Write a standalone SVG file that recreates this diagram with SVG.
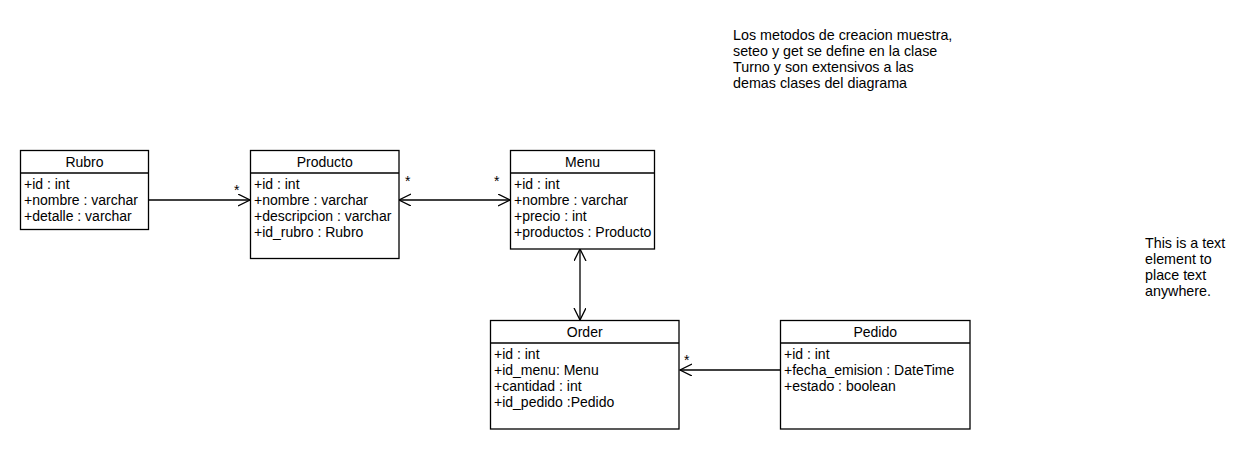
<svg xmlns="http://www.w3.org/2000/svg" width="1260" height="450" viewBox="0 0 1260 450">
<defs>
<style>
text{font-family:"Liberation Sans",Arial,sans-serif;font-size:14px;fill:#000}
.note{font-size:14.3px}
.box{fill:#fff;stroke:#000;stroke-width:1.3}
.div{stroke:#000;stroke-width:1.3}
.hdr{text-anchor:middle}
.conn{stroke:#000;stroke-width:1.3;fill:none}
</style>
<marker id="open" markerWidth="14" markerHeight="14" refX="12" refY="6" orient="auto-start-reverse" markerUnits="userSpaceOnUse">
<path d="M0,0 L12,6 L0,12" fill="none" stroke="#000" stroke-width="1.3"/>
</marker>
</defs>
<rect width="1260" height="450" fill="#fff"/>
<g id="connectors">
<line class="conn" x1="149" y1="200" x2="250" y2="200" marker-end="url(#open)"/>
<text x="234" y="195">*</text>
<line class="conn" x1="399" y1="200" x2="510" y2="200" marker-start="url(#open)" marker-end="url(#open)"/>
<text x="405" y="186">*</text>
<text x="494" y="186">*</text>
<line class="conn" x1="580" y1="249" x2="580" y2="320" marker-start="url(#open)" marker-end="url(#open)"/>
<line class="conn" x1="780" y1="370" x2="680" y2="370" marker-end="url(#open)"/>
<text x="684" y="365">*</text>
</g>
<g id="rubro">
<rect class="box" x="20.5" y="150.5" width="128" height="79"/>
<line class="div" x1="20.5" y1="173" x2="148.5" y2="173"/>
<text class="hdr" x="84.5" y="167">Rubro</text>
<text x="24" y="189">+id : int</text>
<text x="24" y="205">+nombre : varchar</text>
<text x="24" y="221">+detalle : varchar</text>
</g>
<g id="producto">
<rect class="box" x="250.5" y="150.5" width="148.5" height="108"/>
<line class="div" x1="250.5" y1="173" x2="399" y2="173"/>
<text class="hdr" x="324.7" y="167">Producto</text>
<text x="254" y="189">+id : int</text>
<text x="254" y="205">+nombre : varchar</text>
<text x="254" y="221">+descripcion : varchar</text>
<text x="254" y="237">+id_rubro : Rubro</text>
</g>
<g id="menu">
<rect class="box" x="510.5" y="150.5" width="144" height="98.5"/>
<line class="div" x1="510.5" y1="173" x2="654.5" y2="173"/>
<text class="hdr" x="582.5" y="167">Menu</text>
<text x="514" y="189">+id : int</text>
<text x="514" y="205">+nombre : varchar</text>
<text x="514" y="221">+precio : int</text>
<text x="514" y="237">+productos : Producto</text>
</g>
<g id="order">
<rect class="box" x="490.5" y="320.5" width="188.5" height="108.5"/>
<line class="div" x1="490.5" y1="343" x2="679" y2="343"/>
<text class="hdr" x="584.7" y="337">Order</text>
<text x="494" y="359">+id : int</text>
<text x="494" y="375">+id_menu: Menu</text>
<text x="494" y="391">+cantidad : int</text>
<text x="494" y="407">+id_pedido :Pedido</text>
</g>
<g id="pedido">
<rect class="box" x="780.5" y="320.5" width="189.5" height="108.5"/>
<line class="div" x1="780.5" y1="343" x2="970" y2="343"/>
<text class="hdr" x="875.2" y="337">Pedido</text>
<text x="784" y="359">+id : int</text>
<text x="784" y="375">+fecha_emision : DateTime</text>
<text x="784" y="391">+estado : boolean</text>
</g>
<g id="note-metodos">
<text class="note" x="733" y="40">Los metodos de creacion muestra,</text>
<text class="note" x="733" y="56">seteo y get se define en la clase</text>
<text class="note" x="733" y="72">Turno y son extensivos a las</text>
<text class="note" x="733" y="88">demas clases del diagrama</text>
</g>
<g id="note-text">
<text class="note" x="1145" y="248">This is a text</text>
<text class="note" x="1145" y="264">element to</text>
<text class="note" x="1145" y="280">place text</text>
<text class="note" x="1145" y="296">anywhere.</text>
</g>
</svg>
